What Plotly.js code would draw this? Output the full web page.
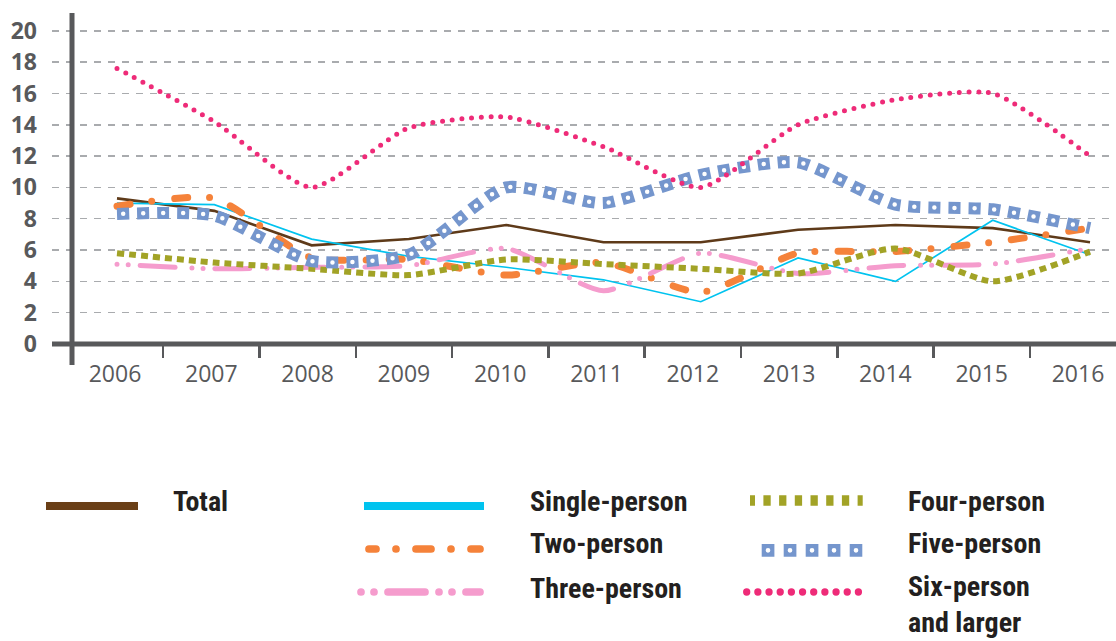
<!DOCTYPE html>
<html>
<head>
<meta charset="utf-8">
<script src="https://cdn.plot.ly/plotly-3.0.1.min.js"></script>
<style>
  html, body { margin: 0; padding: 0; background: #ffffff; }
  #chart { width: 1116px; height: 641px; }
  /* round caps for dotted / dash-dot series */
  .scatterlayer .trace:nth-child(3) path.js-line,
  .scatterlayer .trace:nth-child(4) path.js-line,
  .scatterlayer .trace:nth-child(8) path.js-line { stroke-linecap: round; }
  /* white centres of the Five-person squares */
  .scatterlayer .trace:nth-child(7) path.js-line { stroke-linecap: round; stroke-dashoffset: -6px; }
</style>
</head>
<body>
<div id="chart"></div>
<script>
// ---------------- data ----------------
const years = ['2006','2007','2008','2009','2010','2011','2012','2013','2014','2015','2016'];
const total       = [9.3, 8.5, 6.3, 6.7, 7.6, 6.5, 6.5, 7.3, 7.6, 7.4, 6.5];
const singlePerson= [9.0, 8.9, 6.7, 5.6, 4.9, 4.1, 2.7, 5.5, 4.0, 7.9, 5.7];
const twoPerson   = [8.8, 9.3, 5.5, 5.4, 4.4, 5.2, 3.3, 5.8, 5.9, 6.5, 7.4];
const threePerson = [5.1, 4.8, 4.9, 5.0, 6.1, 3.4, 5.8, 4.5, 5.0, 5.1, 6.1];
const fourPerson  = [5.8, 5.2, 4.8, 4.4, 5.4, 5.1, 4.8, 4.5, 6.1, 4.0, 5.9];
const fivePerson  = [8.3, 8.2, 5.3, 5.7, 10.0, 9.0, 10.8, 11.6, 8.9, 8.6, 7.4];
const sixPerson   = [17.6, 14.2, 10.0, 13.8, 14.5, 12.6, 10.0, 14.0, 15.6, 16.0, 12.0];
const yTicks = [0, 2, 4, 6, 8, 10, 12, 14, 16, 18, 20];
const legendLabels = ['Total', 'Single-person', 'Two-person', 'Three-person', 'Four-person', 'Five-person', 'Six-person<br>and larger'];

// ---------------- styles ----------------
const C = {
  total: '#5e3a19', single: '#00c3ef', two: '#f5823a', three: '#f59ccd',
  four: '#a2a326', five: '#7596cd', six: '#ee2b78', axis: '#58595b',
  grid: '#a9abae', text: '#231f20'
};
const condensed = '"Liberation Sans Narrow", "Roboto Condensed", Roboto, sans-serif';
const SMOOTH = 0.6;

function tr(y, name, line, smooth) {
  return { type: 'scatter', mode: 'lines', x: years, y: y, name: name,
    line: Object.assign({ shape: smooth ? 'spline' : 'linear', smoothing: SMOOTH }, line),
    hoverinfo: 'skip', showlegend: false };
}

const data = [
  tr(total, legendLabels[0], { color: C.total, width: 2.6 }, false),
  tr(singlePerson, legendLabels[1], { color: C.single, width: 1.7 }, false),
  tr(twoPerson, legendLabels[2], { color: C.two, width: 7, dash: '13px,22px,0px,23px' }, true),
  tr(threePerson, legendLabels[3], { color: C.three, width: 5, dash: '0px,11px,0px,12px,35px,17px' }, true),
  tr(fourPerson, legendLabels[4], { color: C.four, width: 6, dash: '7px,5px' }, true),
  tr(fivePerson, legendLabels[5], { color: C.five, width: 12, dash: '12px,8px' }, true),
  tr(fivePerson, legendLabels[5], { color: '#ffffff', width: 4.5, dash: '0px,20px' }, true),
  tr(sixPerson, 'Six-person and larger', { color: C.six, width: 5, dash: '0px,9.7px' }, true),
  // carrier for the year-label axis (draws nothing)
  { type: 'scatter', mode: 'none', x: years.map((_, i) => i), y: years.map(() => null),
    xaxis: 'x2', yaxis: 'y', hoverinfo: 'skip', showlegend: false }
];

// ---------------- layout geometry ----------------
const L = 52, T = 13, PW = 1064, PH = 331;
const px = x => (x - L) / PW;
const py = y => (T + PH - y) / PH;

const shapes = [];
function hline(x0, x1, y, color, width, dash) {
  shapes.push({ type: 'line', xref: 'paper', yref: 'paper', x0: px(x0), x1: px(x1), y0: py(y), y1: py(y),
    line: { color: color, width: width, dash: dash || 'solid' }, layer: 'above' });
}
// axes lines
shapes.push({ type: 'line', xref: 'paper', yref: 'paper', x0: px(72), x1: px(72), y0: py(365), y1: py(13),
  line: { color: C.axis, width: 5 }, layer: 'above' });
shapes.push({ type: 'line', xref: 'paper', yref: 'paper', x0: 0, x1: 1, y0: 0, y1: 0,
  line: { color: C.axis, width: 5 }, layer: 'above' });
// legend samples
hline(46, 138, 506, '#6a3f17', 8);                                   // 2 Total
hline(364, 484, 506, C.single, 8);                                    // 3 Single
hline(369, 480, 549, C.two, 7.7, '15px,20px,0px,20px');               // 4 Two
hline(361, 480, 592, C.three, 7.7, '0px,13px,0px,14px,37px,14px');    // 5 Three
hline(750, 862.7, 500.5, C.four, 10.7, '7.3px,8.4px');                // 6 Four
hline(761.7, 862.3, 550.3, C.five, 12.7, '12.7px,9.3px');             // 7 Five
hline(768, 856.5, 550.3, '#ffffff', 4.7, '0px,22px');                 // 8 Five centres
hline(746.7, 858.9, 592, C.six, 7.3, '0px,11.17px');                  // 9 Six
const roundShapes = { 4: 8, 5: 0, 8: 0, 9: 0 };   // index -> dashoffset
const offsetShapes = { 6: 2.3 };

const annotations = [];
function lab(text, x, yBase) {
  annotations.push({ xref: 'paper', yref: 'paper', x: px(x), y: py(yBase - 30), text: text,
    xanchor: 'left', yanchor: 'top', showarrow: false, align: 'left',
    font: { family: condensed, size: 28, color: C.text, weight: 'bold' } });
}
lab(legendLabels[0], 171, 513);
lab(legendLabels[1], 528, 513);
lab(legendLabels[2], 528, 555);
lab(legendLabels[3], 528, 600);
lab(legendLabels[4], 906, 513);
lab(legendLabels[5], 906, 555);
lab(legendLabels[6], 906, 598);

const layout = {
  width: 1116, height: 641,
  margin: { l: L, r: 0, t: T, b: 641 - T - PH, pad: 0 },
  paper_bgcolor: '#ffffff', plot_bgcolor: '#ffffff',
  showlegend: false, hovermode: false,
  font: { family: '"Open Sans", sans-serif', color: C.axis },
  xaxis: {
    type: 'category', visible: false,
    range: [-(117 - L) / 97.3, (L + PW - 117) / 97.3]
  },
  xaxis2: {
    type: 'linear', overlaying: 'x', anchor: 'y', side: 'bottom',
    range: [-(115 - L) / 96.3, (L + PW - 115) / 96.3],
    tickmode: 'array', tickvals: years.map((_, i) => i), ticktext: years,
    ticks: '', showgrid: false, zeroline: false, showline: false,
    tickfont: { family: '"Open Sans", sans-serif', size: 23, color: C.axis },
    ticklabelstandoff: 14,
    minor: { tickmode: 'array', tickvals: years.slice(1).map((_, i) => i + 0.5),
      ticks: 'outside', ticklen: 13, tickwidth: 2.5, tickcolor: C.axis, showgrid: false }
  },
  yaxis: {
    range: [0, PH / 15.66], tickmode: 'array', tickvals: yTicks, ticktext: yTicks.map(String),
    showgrid: true, gridcolor: C.grid, gridwidth: 1.5, griddash: '7px,7px',
    zeroline: false, showline: false, ticks: '',
    tickfont: { family: '"Open Sans", sans-serif', size: 23, color: C.axis, weight: 'bold' },
    ticklabelstandoff: 14
  },
  shapes: shapes,
  annotations: annotations
};

Plotly.newPlot('chart', data, layout, { staticPlot: true, displayModeBar: false }).then(gd => {
  gd.querySelectorAll('.shapelayer [data-index]').forEach(el => {
    const idx = +el.getAttribute('data-index');
    const p = el.tagName.toLowerCase() === 'path' ? el : el.querySelector('path');
    if (!p) return;
    if (idx in roundShapes) {
      p.style.strokeLinecap = 'round';
      if (roundShapes[idx]) p.style.strokeDashoffset = roundShapes[idx] + 'px';
    }
    if (idx in offsetShapes) p.style.strokeDashoffset = offsetShapes[idx] + 'px';
  });
});
</script>
</body>
</html>
